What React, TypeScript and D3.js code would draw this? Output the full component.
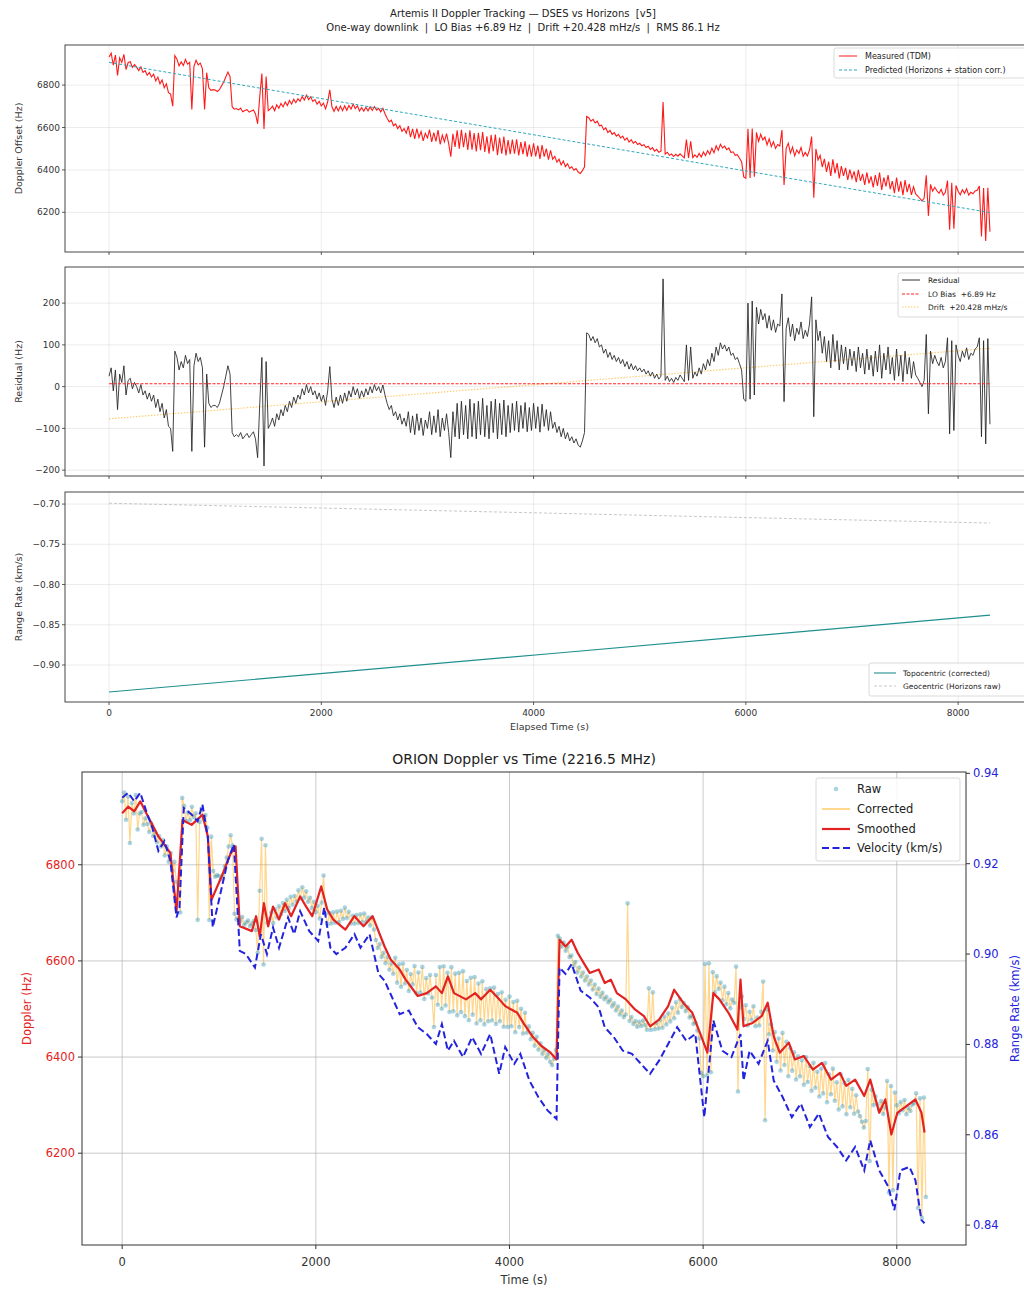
import React, { useEffect, useRef } from 'react';
import * as d3 from 'd3';

// TDM sample spacing in seconds (first sample at t = 0)
const sampleStep = 20;

// Residual = measured - predicted (Hz), one value per sample
const residualHz = [
  25, 45, -10, 40, -55, 30, 10, 50, -20, 15,
  20, -5, 10, 0, -15, 5, -20, -10, -30, -15,
  -35, -20, -50, -30, -60, -40, -75, -55, -95, -100,
  -155, 85, 70, 40, 60, 45, 75, 55, 65, -155,
  50, 80, 60, 70, 45, -145, 30, -40, -50, -45,
  -45, -50, -40, -20, 0, 25, 50, 30, -110, -120,
  -115, -120, -110, -125, -118, -112, -122, -115, -108, -125,
  -170, -40, 70, -190, 60, -100, -90, -75, -95, -65,
  -80, -55, -70, -45, -60, -35, -50, -25, -40, -20,
  -30, -5, -20, 5, -15, 0, -20, -10, -30, -15,
  -35, -20, -45, -10, 48, -30, -50, -25, -45, -20,
  -40, -15, -35, -10, -25, 0, -20, -5, -28, -10,
  -25, -5, -20, 0, -15, 5, -10, 0, -15, 4,
  -20, -40, -55, -45, -70, -60, -80, -65, -90, -75,
  -95, -60, -110, -70, -115, -65, -105, -75, -117, -80,
  -100, -60, -115, -70, -110, -55, -120, -75, -105, -65,
  -110, -170, -60, -120, -40, -125, -35, -115, -45, -125,
  -30, -120, -40, -125, -35, -115, -28, -120, -45, -125,
  -35, -110, -30, -125, -40, -115, -32, -120, -45, -110,
  -40, -105, -35, -109, -45, -100, -38, -108, -50, -105,
  -40, -100, -48, -109, -42, -95, -55, -105, -60, -100,
  -85, -110, -95, -120, -100, -125, -110, -130, -120, -135,
  -125, -140, -145, -130, -110, 129, 125, 110, 120, 105,
  115, 95, 100, 80, 90, 70, 82, 65, 75, 60,
  70, 55, 65, 48, 60, 42, 55, 40, 50, 38,
  45, 35, 42, 30, 38, 25, 35, 20, 30, 18,
  25, 258, 15, 25, 12, 20, 10, 22, 15, 28,
  20, 12, 100, 15, 95, 20, 35, 25, 45, 30,
  55, 40, 65, 50, 80, 60, 95, 75, 105, 90,
  100, 85, 95, 75, 80, 65, 70, 55, 40, -30,
  -35, 200, -30, 205, -20, 190, 150, 185, 160, 175,
  140, 170, 135, 160, 130, 150, 145, 222, -36, 140,
  165, 120, 150, 110, 140, 125, 155, 115, 135, 120,
  150, 215, -72, 160, 110, 133, 80, 120, 60, 110,
  45, 125, 60, 110, 40, 100, 55, 95, 40, 90,
  50, 85, 36, 95, 45, 80, 30, 90, 40, 75,
  25, 85, 35, 100, 20, 80, 40, 95, 30, 70,
  15, 90, 25, 75, 12, 85, 30, 70, 20, 60,
  28, 20, 10, 0, 15, 125, -65, 85, 55, 75,
  60, 50, 70, 45, 60, 117, -113, 110, -105, 100,
  75, 60, 85, 70, 93, 65, 80, 75, 90, 95,
  117, -120, 110, -137, 115, -90,
];

// Horizons prediction + station correction (Hz)
const predictedT = [0, 8300];
const predictedHz = [6907, 6199];

const loBiasHz = 6.89;
const driftT = [0, 8300];
const driftHz = [-77, 92];

// range rate (km/s)
const rangeT = [0, 4150, 8300];
const topoKms = [-0.9335, -0.886, -0.838];
const geoKms = [-0.699, -0.7113, -0.7236];

// ORION plot: smoothed doppler (Hz)
const smoothT = [
  0, 62, 125, 187, 249, 312, 374, 436, 498, 561, 623, 717, 829, 885, 922, 1028, 1121, 1171,
  1215, 1340, 1383, 1421, 1464, 1508, 1558, 1620, 1682, 1745, 1838, 1900, 1963, 2056, 2118,
  2181, 2305, 2399, 2492, 2586, 2710, 2773, 2866, 2928, 3053, 3146, 3240, 3302, 3364, 3427,
  3551, 3645, 3707, 3801, 3894, 3956, 4081, 4143, 4237, 4330, 4424, 4486, 4517, 4579, 4642,
  4704, 4766, 4829, 4922, 4984, 5047, 5109, 5202, 5296, 5389, 5452, 5545, 5639, 5701, 5794,
  5888, 5981, 6044, 6106, 6168, 6262, 6355, 6386, 6417, 6511, 6604, 6667, 6729, 6791, 6885,
  6947, 7040, 7134, 7227, 7321, 7414, 7477, 7570, 7664, 7726, 7819, 7882, 7944, 8006, 8100,
  8193, 8255, 8287,
];
const smoothHz = [
  6907, 6921, 6911, 6932, 6907, 6883, 6859, 6842, 6824, 6703, 6893, 6883, 6904, 6859, 6727,
  6776, 6824, 6838, 6672, 6662, 6693, 6651, 6720, 6672, 6713, 6686, 6720, 6693, 6734, 6713,
  6693, 6755, 6707, 6686, 6665, 6693, 6672, 6693, 6630, 6603, 6582, 6561, 6527, 6533, 6547,
  6533, 6568, 6533, 6520, 6533, 6520, 6540, 6520, 6506, 6492, 6471, 6443, 6423, 6409, 6395,
  6644, 6630, 6644, 6617, 6596, 6575, 6582, 6554, 6561, 6533, 6520, 6499, 6485, 6464, 6478,
  6506, 6540, 6513, 6492, 6443, 6409, 6533, 6520, 6492, 6457, 6561, 6464, 6471, 6485, 6513,
  6443, 6409, 6430, 6395, 6402, 6374, 6388, 6353, 6367, 6340, 6353, 6319, 6353, 6284, 6312,
  6239, 6284, 6298, 6312, 6284, 6243,
];

// ORION plot: velocity (km/s)
const velT = [
  0, 62, 125, 187, 249, 312, 374, 436, 498, 561, 592, 636, 717, 779, 829, 885, 935, 997, 1090,
  1153, 1215, 1277, 1371, 1433, 1495, 1558, 1620, 1713, 1776, 1838, 1931, 2025, 2087, 2150,
  2212, 2305, 2399, 2461, 2555, 2648, 2710, 2773, 2866, 2960, 3053, 3146, 3240, 3302, 3364,
  3427, 3520, 3614, 3707, 3801, 3894, 3956, 4050, 4112, 4206, 4299, 4393, 4486, 4517, 4579,
  4642, 4735, 4829, 4922, 4984, 5078, 5171, 5265, 5358, 5452, 5545, 5639, 5732, 5826, 5919,
  6012, 6106, 6199, 6293, 6386, 6417, 6480, 6573, 6667, 6729, 6822, 6916, 7009, 7103, 7196,
  7290, 7383, 7477, 7570, 7664, 7726, 7819, 7913, 7975, 8037, 8131, 8193, 8255, 8287,
];
const velKms = [
  0.9346, 0.9357, 0.9338, 0.9357, 0.9316, 0.9279, 0.9228, 0.925, 0.9206, 0.9081, 0.9103,
  0.9323, 0.9309, 0.9294, 0.9331, 0.9257, 0.9059, 0.9117, 0.9206, 0.9243, 0.9007, 0.9,
  0.897, 0.9044, 0.9, 0.9059, 0.9014, 0.9081, 0.9044, 0.9095, 0.9051, 0.9029, 0.9103,
  0.9014, 0.9, 0.9014, 0.9044, 0.9014, 0.9044, 0.8956, 0.8941, 0.8911, 0.8867, 0.8875,
  0.8838, 0.8823, 0.8801, 0.8845, 0.8786, 0.8808, 0.8772, 0.8816, 0.8779, 0.8823, 0.8735,
  0.8794, 0.8757, 0.8779, 0.872, 0.8683, 0.8654, 0.8635, 0.897, 0.8956, 0.8978, 0.8919,
  0.8904, 0.8882, 0.8838, 0.8816, 0.8786, 0.8779, 0.8757, 0.8735, 0.8764, 0.8801, 0.8838,
  0.8808, 0.8823, 0.8639, 0.8853, 0.8786, 0.8772, 0.8823, 0.872, 0.8786, 0.8757, 0.8808,
  0.872, 0.8683, 0.8639, 0.8669, 0.8617, 0.8647, 0.8595, 0.8573, 0.8543, 0.8573, 0.8521,
  0.8588, 0.8521, 0.8485, 0.8433, 0.8521, 0.8529, 0.8499, 0.8411, 0.8404,
];

const timeTicks = [0, 2000, 4000, 6000, 8000];
const dopplerTicks = [6200, 6400, 6600, 6800];
const residualTicks = [-200, -100, 0, 100, 200];
const rangeTicks = [-0.9, -0.85, -0.8, -0.75, -0.7];
const velTicks = [0.84, 0.86, 0.88, 0.9, 0.92, 0.94];

const W = 1024;
const H = 1289;
const FONT = "'DejaVu Sans', 'Liberation Sans', sans-serif";

const App: React.FC = () => {
  const svgRef = useRef<SVGSVGElement>(null);

  useEffect(() => {
    const svg = d3.select(svgRef.current);
    svg.selectAll('*').remove();
    svg.append('rect').attr('width', W).attr('height', H).attr('fill', '#fff');
    const defs = svg.append('defs');

    const predAt = d3.scaleLinear().domain(predictedT).range(predictedHz);
    const measured = residualHz.map((r, i) => [i * sampleStep, predAt(i * sampleStep) + r] as [number, number]);
    const residual = residualHz.map((r, i) => [i * sampleStep, r] as [number, number]);
    const zip = (a: number[], b: number[]) => a.map((t, i) => [t, b[i]] as [number, number]);

    // ---------- top figure (3 stacked panels, shared x) ----------
    const L = 65, R = 1034;
    const tx = d3.scaleLinear().domain([-415, 8715]).range([L, R]);

    svg.append('text').attr('x', 523).attr('y', 17).attr('text-anchor', 'middle')
      .style('font-family', FONT).style('font-size', '10px').style('fill', '#222')
      .style('white-space', 'pre')
      .text('Artemis II Doppler Tracking \u2014 DSES vs Horizons  [v5]');
    svg.append('text').attr('x', 523).attr('y', 31).attr('text-anchor', 'middle')
      .style('font-family', FONT).style('font-size', '10px').style('fill', '#222')
      .style('white-space', 'pre')
      .text('One-way downlink  |  LO Bias +6.89 Hz  |  Drift +20.428 mHz/s  |  RMS 86.1 Hz');

    const makePanel = (id: string, top: number, bottom: number, domain: number[], ticks: number[],
      fmt: (n: number) => string, label: string, xLabels: boolean) => {
      const y = d3.scaleLinear().domain(domain).range([bottom, top]);
      defs.append('clipPath').attr('id', id).append('rect')
        .attr('x', L).attr('y', top).attr('width', R - L).attr('height', bottom - top);

      const grid = svg.append('g');
      timeTicks.forEach(t => grid.append('line').attr('x1', tx(t)).attr('x2', tx(t)).attr('y1', top).attr('y2', bottom));
      ticks.forEach(v => grid.append('line').attr('x1', L).attr('x2', R).attr('y1', y(v)).attr('y2', y(v)));
      grid.selectAll('line').attr('stroke', '#b0b0b0').attr('stroke-opacity', 0.35).attr('stroke-width', 0.7);

      const plot = svg.append('g').attr('clip-path', `url(#${id})`);
      const frame = svg.append('g');
      frame.append('rect').attr('x', L).attr('y', top).attr('width', R - L).attr('height', bottom - top)
        .attr('fill', 'none').attr('stroke', '#333').attr('stroke-width', 0.9);
      ticks.forEach(v => {
        frame.append('line').attr('x1', L - 3).attr('x2', L).attr('y1', y(v)).attr('y2', y(v))
          .attr('stroke', '#333').attr('stroke-width', 0.8);
        frame.append('text').attr('x', L - 5).attr('y', y(v)).attr('dy', '0.35em').attr('text-anchor', 'end')
          .style('font-family', FONT).style('font-size', '9px').style('fill', '#333').text(fmt(v));
      });
      timeTicks.forEach(t => {
        frame.append('line').attr('x1', tx(t)).attr('x2', tx(t)).attr('y1', bottom).attr('y2', bottom + 3)
          .attr('stroke', '#333').attr('stroke-width', 0.8);
        if (xLabels) {
          frame.append('text').attr('x', tx(t)).attr('y', bottom + 14).attr('text-anchor', 'middle')
            .style('font-family', FONT).style('font-size', '9px').style('fill', '#333').text(String(t));
        }
      });
      frame.append('text')
        .attr('transform', `translate(22,${(top + bottom) / 2}) rotate(-90)`)
        .attr('text-anchor', 'middle')
        .style('font-family', FONT).style('font-size', '9.5px').style('fill', '#333').text(label);
      return { y, plot, frame };
    };

    const legendBox = (x: number, y: number, w: number, h: number, rows: any[], handleX: number, textX: number,
      size: number) => {
      const g = svg.append('g');
      g.append('rect').attr('x', x).attr('y', y).attr('width', w).attr('height', h).attr('rx', 2)
        .attr('fill', '#fff').attr('fill-opacity', 0.85).attr('stroke', '#d0d0d0').attr('stroke-width', 0.8);
      rows.forEach(r => {
        if (r.dot) {
          g.append('circle').attr('cx', handleX + r.len / 2).attr('cy', r.y).attr('r', r.dot)
            .attr('fill', r.color).attr('fill-opacity', r.opacity ?? 1);
        } else {
          g.append('line').attr('x1', handleX).attr('x2', handleX + r.len).attr('y1', r.y).attr('y2', r.y)
            .attr('stroke', r.color).attr('stroke-width', r.width).attr('stroke-opacity', r.opacity ?? 1)
            .attr('stroke-dasharray', r.dash ?? null);
        }
        g.append('text').attr('x', textX).attr('y', r.y).attr('dy', '0.35em')
          .style('font-family', FONT).style('font-size', `${size}px`).style('fill', '#222')
          .style('white-space', 'pre').text(r.label);
      });
    };

    const fmtInt = d3.format('d');
    const fmt2 = d3.format('.2f');

    // panel 1: measured vs predicted
    const p1 = makePanel('clip-p1', 45, 252, [6013, 6989], dopplerTicks, fmtInt, 'Doppler Offset (Hz)', false);
    const l1 = d3.line<[number, number]>().x(d => tx(d[0])).y(d => p1.y(d[1]));
    p1.plot.append('path').attr('d', l1(measured)).attr('fill', 'none')
      .attr('stroke', '#ff1a1a').attr('stroke-width', 1.1);
    p1.plot.append('path').attr('d', l1(zip(predictedT, predictedHz))).attr('fill', 'none')
      .attr('stroke', '#2fa8bd').attr('stroke-width', 1).attr('stroke-dasharray', '3,2');
    legendBox(834, 48, 196, 30, [
      { y: 56, label: 'Measured (TDM)', color: '#ff1a1a', width: 1, len: 18 },
      { y: 70, label: 'Predicted (Horizons + station corr.)', color: '#2fa8bd', width: 1, dash: '3,2', len: 18 },
    ], 839, 865, 8);

    // panel 2: residual
    const p2 = makePanel('clip-p2', 267, 476, [-214, 286.5], residualTicks, fmtInt, 'Residual (Hz)', false);
    const l2 = d3.line<[number, number]>().x(d => tx(d[0])).y(d => p2.y(d[1]));
    p2.plot.append('path').attr('d', l2(zip(driftT, driftHz))).attr('fill', 'none')
      .attr('stroke', '#ffa500').attr('stroke-opacity', 0.55).attr('stroke-width', 1.2).attr('stroke-dasharray', '1.5,1.5');
    p2.plot.append('path').attr('d', l2(residual)).attr('fill', 'none')
      .attr('stroke', '#222').attr('stroke-opacity', 0.85).attr('stroke-width', 1);
    p2.plot.append('path').attr('d', l2(zip(driftT, driftT.map(() => loBiasHz)))).attr('fill', 'none')
      .attr('stroke', '#ff2020').attr('stroke-width', 1).attr('stroke-dasharray', '3,1.5');
    legendBox(898, 273, 132, 44, [
      { y: 280, label: 'Residual', color: '#333', width: 1, len: 18 },
      { y: 294, label: 'LO Bias  +6.89 Hz', color: '#ff2020', width: 1, dash: '3,1.5', len: 18 },
      { y: 307, label: 'Drift  +20.428 mHz/s', color: '#ffa500', width: 1.2, opacity: 0.6, dash: '1.5,1.5', len: 18 },
    ], 902, 928, 7.5);

    // panel 3: range rate
    const p3 = makePanel('clip-p3', 492, 702, [-0.946, -0.685], rangeTicks, fmt2, 'Range Rate (km/s)', true);
    const l3 = d3.line<[number, number]>().x(d => tx(d[0])).y(d => p3.y(d[1]));
    p3.plot.append('path').attr('d', l3(zip(rangeT, topoKms))).attr('fill', 'none')
      .attr('stroke', '#1f8f8f').attr('stroke-width', 1.1);
    p3.plot.append('path').attr('d', l3(zip(rangeT, geoKms))).attr('fill', 'none')
      .attr('stroke', '#c8c8c8').attr('stroke-width', 1).attr('stroke-dasharray', '3,2');
    legendBox(869, 663, 160, 33, [
      { y: 673, label: 'Topocentric (corrected)', color: '#1f8f8f', width: 1.1, len: 22 },
      { y: 686, label: 'Geocentric (Horizons raw)', color: '#c8c8c8', width: 1, dash: '3,2', len: 22 },
    ], 874, 903, 7.5);

    svg.append('text').attr('x', (L + R) / 2).attr('y', 730).attr('text-anchor', 'middle')
      .style('font-family', FONT).style('font-size', '9.5px').style('fill', '#333').text('Elapsed Time (s)');

    // ---------- bottom figure: ORION doppler vs time ----------
    const BL = 82, BR = 966, BT = 772, BB = 1245;
    const bx = d3.scaleLinear().domain([-415, 8715]).range([BL, BR]);
    const byL = d3.scaleLinear().domain([6009, 6993]).range([BB, BT]);
    const byR = d3.scaleLinear().domain([0.8356, 0.9403]).range([BB, BT]);
    const red = '#e32222';
    const blue = '#2323dd';

    defs.append('clipPath').attr('id', 'clip-orion').append('rect')
      .attr('x', BL).attr('y', BT).attr('width', BR - BL).attr('height', BB - BT);

    svg.append('text').attr('x', (BL + BR) / 2).attr('y', 764).attr('text-anchor', 'middle')
      .style('font-family', FONT).style('font-size', '14px').style('fill', '#222')
      .text('ORION Doppler vs Time (2216.5 MHz)');

    const bgrid = svg.append('g');
    timeTicks.forEach(t => bgrid.append('line').attr('x1', bx(t)).attr('x2', bx(t)).attr('y1', BT).attr('y2', BB));
    dopplerTicks.forEach(v => bgrid.append('line').attr('x1', BL).attr('x2', BR).attr('y1', byL(v)).attr('y2', byL(v)));
    bgrid.selectAll('line').attr('stroke', '#b0b0b0').attr('stroke-opacity', 0.75).attr('stroke-width', 0.9);

    const bplot = svg.append('g').attr('clip-path', 'url(#clip-orion)');
    const lb = d3.line<[number, number]>().x(d => bx(d[0])).y(d => byL(d[1]));
    const lv = d3.line<[number, number]>().x(d => bx(d[0])).y(d => byR(d[1]));

    bplot.append('path').attr('d', lb(measured)).attr('fill', 'none')
      .attr('stroke', '#ffa500').attr('stroke-opacity', 0.45).attr('stroke-width', 1.2);
    bplot.append('g').selectAll('circle').data(measured).join('circle')
      .attr('cx', d => bx(d[0])).attr('cy', d => byL(d[1])).attr('r', 2.3)
      .attr('fill', '#2a94b8').attr('fill-opacity', 0.4);
    bplot.append('path').attr('d', lb(zip(smoothT, smoothHz))).attr('fill', 'none')
      .attr('stroke', red).attr('stroke-width', 2.2).attr('stroke-linejoin', 'round');
    bplot.append('path').attr('d', lv(zip(velT, velKms))).attr('fill', 'none')
      .attr('stroke', blue).attr('stroke-width', 2).attr('stroke-dasharray', '7,3.5');

    const bframe = svg.append('g');
    bframe.append('rect').attr('x', BL).attr('y', BT).attr('width', BR - BL).attr('height', BB - BT)
      .attr('fill', 'none').attr('stroke', '#333').attr('stroke-width', 1);
    timeTicks.forEach(t => {
      bframe.append('line').attr('x1', bx(t)).attr('x2', bx(t)).attr('y1', BB).attr('y2', BB + 4)
        .attr('stroke', '#333');
      bframe.append('text').attr('x', bx(t)).attr('y', BB + 17).attr('dy', '0.35em').attr('text-anchor', 'middle')
        .style('font-family', FONT).style('font-size', '11.5px').style('fill', '#333').text(String(t));
    });
    dopplerTicks.forEach(v => {
      bframe.append('line').attr('x1', BL - 4).attr('x2', BL).attr('y1', byL(v)).attr('y2', byL(v))
        .attr('stroke', '#333');
      bframe.append('text').attr('x', BL - 7).attr('y', byL(v)).attr('dy', '0.35em').attr('text-anchor', 'end')
        .style('font-family', FONT).style('font-size', '11.5px').style('fill', red).text(String(v));
    });
    velTicks.forEach(v => {
      bframe.append('line').attr('x1', BR).attr('x2', BR + 4).attr('y1', byR(v)).attr('y2', byR(v))
        .attr('stroke', '#333');
      bframe.append('text').attr('x', BR + 7).attr('y', byR(v)).attr('dy', '0.35em')
        .style('font-family', FONT).style('font-size', '11.5px').style('fill', blue).text(fmt2(v));
    });
    bframe.append('text').attr('transform', `translate(31,${(BT + BB) / 2}) rotate(-90)`).attr('text-anchor', 'middle')
      .style('font-family', FONT).style('font-size', '11.5px').style('fill', red).text('Doppler (Hz)');
    bframe.append('text').attr('transform', `translate(1019,${(BT + BB) / 2}) rotate(-90)`).attr('text-anchor', 'middle')
      .style('font-family', FONT).style('font-size', '11.5px').style('fill', blue).text('Range Rate (km/s)');
    bframe.append('text').attr('x', (BL + BR) / 2).attr('y', 1280).attr('dy', '0.35em').attr('text-anchor', 'middle')
      .style('font-family', FONT).style('font-size', '11.5px').style('fill', '#333').text('Time (s)');

    legendBox(816, 778, 144, 83, [
      { y: 789, label: 'Raw', color: '#2a94b8', dot: 2.3, opacity: 0.4, len: 28 },
      { y: 809, label: 'Corrected', color: '#ffa500', width: 1.5, opacity: 0.6, len: 28 },
      { y: 829, label: 'Smoothed', color: red, width: 2.2, len: 28 },
      { y: 848, label: 'Velocity (km/s)', color: blue, width: 2, dash: '7,3.5', len: 28 },
    ], 822, 857, 11.5);
  }, []);

  return (
    <svg
      ref={svgRef}
      width={W}
      height={H}
      style={{ position: 'absolute', left: 0, top: 0, display: 'block' }}
    />
  );
};

export default App;
